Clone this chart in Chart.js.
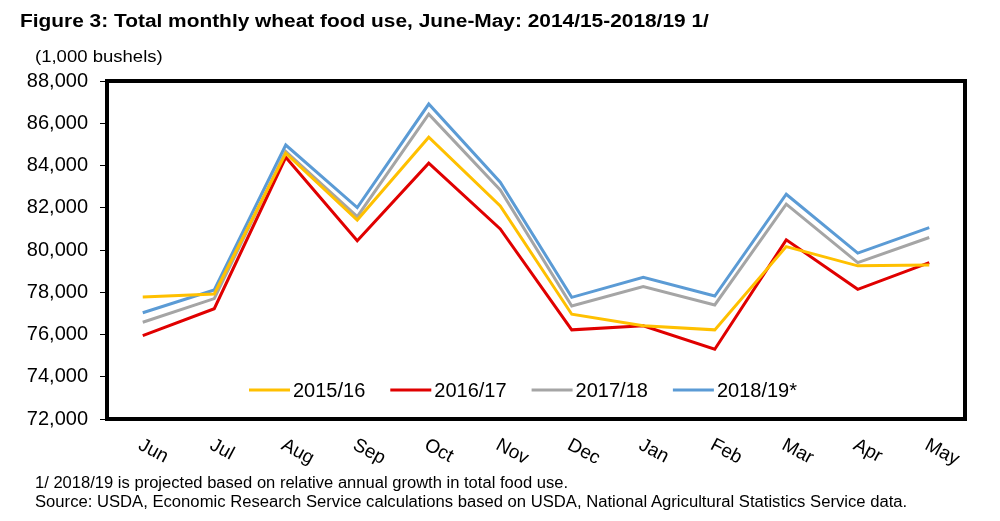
<!DOCTYPE html>
<html>
<head>
<meta charset="utf-8">
<script src="https://cdn.jsdelivr.net/npm/chart.js@4"></script>
<style>
  body { margin: 0; background: #fff; }
  #wrap { position: relative; width: 1000px; height: 521px; font-family: "Liberation Sans", Arial, sans-serif; color: #000; }
  #chart { position: absolute; left: 0; top: 0; }
  .txt { position: absolute; white-space: nowrap; transform-origin: 0 50%; }
  #title { left: 20px; top: 11px; font-size: 18px; font-weight: bold; transform: scaleX(1.16); }
  #units { left: 35px; top: 47px; font-size: 17px; transform: scaleX(1.09); }
  #note1 { left: 35px; top: 474px; font-size: 16px; transform: scaleX(1.035); }
  #note2 { left: 35px; top: 493px; font-size: 16px; transform: scaleX(1.04); }
</style>
</head>
<body>
<div id="wrap">
  <canvas id="chart" width="1000" height="521"></canvas>
  <div class="txt" id="title">Figure 3: Total monthly wheat food use, June-May: 2014/15-2018/19 1/</div>
  <div class="txt" id="units">(1,000 bushels)</div>
  <div class="txt" id="note1">1/ 2018/19 is projected based on relative annual growth in total food use.</div>
  <div class="txt" id="note2">Source: USDA, Economic Research Service calculations based on USDA, National Agricultural Statistics Service data.</div>
</div>
<script>
const months = ['Jun', 'Jul', 'Aug', 'Sep', 'Oct', 'Nov', 'Dec', 'Jan', 'Feb', 'Mar', 'Apr', 'May'];
const seriesNames = ['2015/16', '2016/17', '2017/18', '2018/19*'];
const use1516 = [77780, 77920, 84580, 81420, 85340, 82090, 76960, 76410, 76220, 80160, 79250, 79290];
const use1617 = [75950, 77220, 84390, 80440, 84110, 81000, 76220, 76410, 75300, 80480, 78140, 79400];
const use1718 = [76580, 77700, 84660, 81580, 86430, 82840, 77350, 78270, 77400, 82170, 79400, 80590];
const use1819 = [77030, 78110, 84970, 82010, 86910, 83210, 77760, 78710, 77820, 82640, 79850, 81060];
const yMin = 72000, yMax = 88000, yStep = 2000;

const colors = ['#FFC000', '#E00000', '#A5A5A5', '#5B9BD5'];
const allSeries = [use1516, use1617, use1718, use1819];

const FONT = '"Liberation Sans", Arial, sans-serif';

// plot frame
const framePlugin = {
    id: 'frame',
    afterDraw(chart) {
        const { ctx, chartArea: a } = chart;
        ctx.save();
        ctx.strokeStyle = '#000';
        ctx.lineWidth = 4;
        ctx.strokeRect(a.left, a.top, a.right - a.left, a.bottom - a.top);
        ctx.restore();
    }
};

// slanted month labels under the frame
const monthLabels = {
    id: 'monthLabels',
    afterDraw(chart) {
        const { ctx } = chart;
        const xs = chart.scales.x;
        ctx.save();
        ctx.fillStyle = '#000';
        ctx.font = '19px ' + FONT;
        ctx.textAlign = 'left';
        ctx.textBaseline = 'middle';
        months.forEach((m, i) => {
            const x = xs.getPixelForValue(i);
            ctx.save();
            ctx.translate(x - 3, 444);
            ctx.rotate(28 * Math.PI / 180);
            ctx.fillText(m, 0, 0);
            ctx.restore();
        });
        ctx.restore();
    }
};

// legend inside the plot, near the bottom
const innerLegend = {
    id: 'innerLegend',
    afterDraw(chart) {
        const { ctx } = chart;
        ctx.save();
        ctx.font = '20px ' + FONT;
        ctx.textBaseline = 'middle';
        ctx.textAlign = 'left';
        let x = 249;
        const y = 390;
        chart.data.datasets.forEach(ds => {
            ctx.strokeStyle = ds.borderColor;
            ctx.lineWidth = 3;
            ctx.beginPath();
            ctx.moveTo(x, y);
            ctx.lineTo(x + 41, y);
            ctx.stroke();
            x += 44;
            ctx.fillStyle = '#000';
            ctx.fillText(ds.label, x, y + 1);
            x += ctx.measureText(ds.label).width + 25;
        });
        ctx.restore();
    }
};

new Chart(document.getElementById('chart'), {
    type: 'line',
    data: {
        labels: months,
        datasets: seriesNames.map((name, i) => ({
            label: name,
            data: allSeries[i],
            borderColor: colors[i],
            backgroundColor: colors[i],
            borderWidth: 3,
            pointRadius: 0,
            tension: 0,
            fill: false
        }))
    },
    options: {
        responsive: false,
        animation: false,
        layout: { padding: { left: 0, right: 35, top: 81, bottom: 102 } },
        plugins: {
            legend: { display: false },
            tooltip: { enabled: false }
        },
        scales: {
            x: { display: false, offset: true },
            y: {
                min: yMin,
                max: yMax,
                afterFit(scale) { scale.width = 107; },
                ticks: {
                    stepSize: yStep,
                    color: '#000',
                    padding: 12,
                    font: { family: FONT, size: 20 },
                    callback: v => v.toLocaleString('en-US')
                },
                grid: {
                    drawOnChartArea: false,
                    drawTicks: true,
                    tickLength: 7,
                    color: '#000',
                    lineWidth: 1
                },
                border: { display: false }
            }
        }
    },
    plugins: [framePlugin, monthLabels, innerLegend]
});
</script>
</body>
</html>
